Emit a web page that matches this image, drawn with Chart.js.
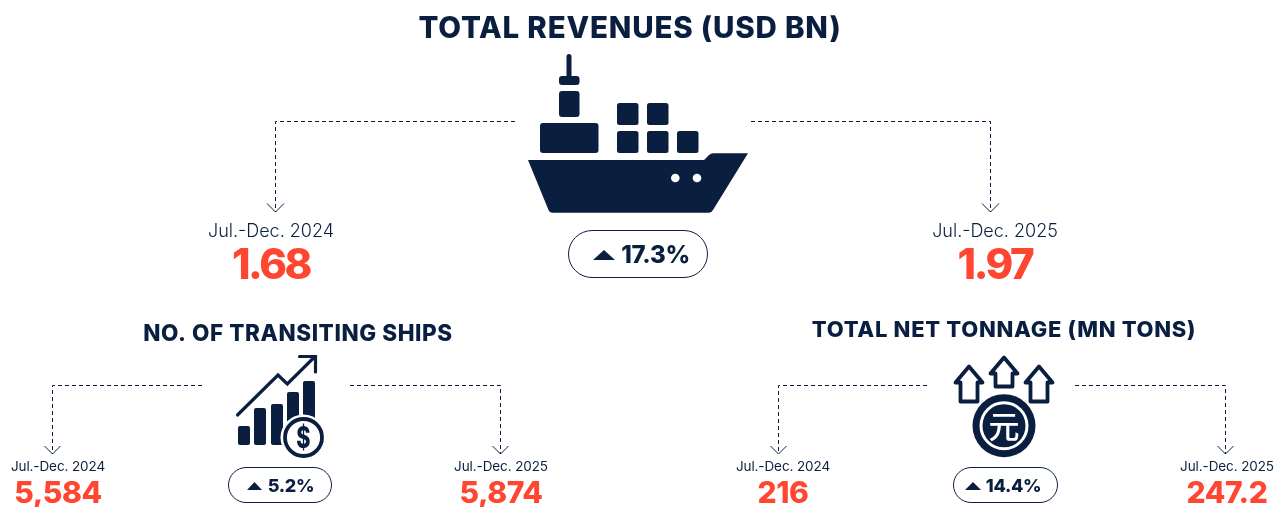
<!DOCTYPE html>
<html>
<head>
<meta charset="utf-8">
<title>Total revenues</title>
<style>
  html, body { margin: 0; padding: 0; background: #fff; }
  canvas { display: block; }
</style>
<script src="https://cdn.jsdelivr.net/npm/chart.js@4"></script>
</head>
<body>
<canvas id="board" width="1275" height="507"></canvas>
<script>
const periods = ["Jul.-Dec. 2024", "Jul.-Dec. 2025"];
const revenues = [1.68, 1.97];
const ships = [5584, 5874];
const tonnage = [216, 247.2];
const changes = [17.3, 5.2, 14.4];
const headings = ["TOTAL REVENUES (USD BN)", "NO. OF TRANSITING SHIPS", "TOTAL NET TONNAGE (MN TONS)"];

const NAVY = "#0a1f3f";
const RED = "#ff4631";
const FONT = "Inter, 'Noto Sans', sans-serif";

// dashed leader lines: [startX, cornerX, cornerY, tipY]
const leaders = [
  [515, 275.5, 121.5, 212],
  [751, 990.5, 121.5, 212],
  [202, 52.5, 385.5, 454],
  [350, 500.5, 385.5, 454],
  [927, 778.5, 385.5, 454],
  [1075, 1225.5, 385.5, 454]
];

const leaderSets = leaders.flatMap(([sx, cx, cy, tip]) => {
  const wing = tip < 300 ? 8.5 : 8;
  return [
    {
      data: [{x: sx, y: cy}, {x: cx, y: cy}, {x: cx, y: tip}],
      showLine: true, pointRadius: 0, borderColor: NAVY, borderWidth: 1, borderDash: [4, 3]
    },
    {
      data: [{x: cx - wing, y: tip - wing}, {x: cx, y: tip}, {x: cx + wing, y: tip - wing}],
      showLine: true, pointRadius: 0, borderColor: NAVY, borderWidth: 1
    }
  ];
});

const label = (ctx, str, x, y, font, color, spacing) => {
  ctx.font = font;
  ctx.fillStyle = color;
  ctx.textAlign = "center";
  ctx.textBaseline = "middle";
  ctx.letterSpacing = spacing || "0px";
  ctx.fillText(str, x, y);
  ctx.letterSpacing = "0px";
};

const box = (ctx, x0, y0, x1, y1, r) => {
  ctx.beginPath();
  ctx.roundRect(x0, y0, x1 - x0, y1 - y0, r);
  ctx.fill();
};

const poly = (ctx, pts) => {
  ctx.beginPath();
  pts.forEach(([x, y], i) => i ? ctx.lineTo(x, y) : ctx.moveTo(x, y));
  ctx.closePath();
};

const drawShip = (ctx) => {
  ctx.fillStyle = NAVY;
  box(ctx, 566.5, 54, 571.5, 78, 2.5);
  box(ctx, 559, 76, 579.5, 85, 3);
  box(ctx, 559, 91, 579.5, 117, 3);
  box(ctx, 540, 123, 598.5, 153, 3);
  [[617, 103], [647, 103], [617, 131], [647, 131], [677, 131]].forEach(([x, y]) => {
    box(ctx, x, y, x + 21.5, y + 22, 2.5);
  });
  ctx.beginPath();
  ctx.moveTo(528, 160);
  ctx.lineTo(704, 160);
  ctx.lineTo(709, 155);
  ctx.quadraticCurveTo(711, 153.3, 713, 153.3);
  ctx.lineTo(748, 153.3);
  ctx.lineTo(713, 210);
  ctx.quadraticCurveTo(711.5, 212.8, 709, 212.8);
  ctx.lineTo(552, 212.8);
  ctx.quadraticCurveTo(549.5, 212.8, 548.5, 210);
  ctx.closePath();
  ctx.fill();
  ctx.fillStyle = "#fff";
  [675.3, 697].forEach((x) => {
    ctx.beginPath();
    ctx.arc(x, 178, 4.3, 0, Math.PI * 2);
    ctx.fill();
  });
};

const drawGrowth = (ctx) => {
  ctx.fillStyle = NAVY;
  box(ctx, 238, 426, 250, 445, 2);
  box(ctx, 254, 408, 266, 445, 2);
  box(ctx, 271, 404, 283, 445, 2);
  box(ctx, 287, 392, 299, 445, 2);
  box(ctx, 303, 381, 315, 445, 2);
  ctx.strokeStyle = NAVY;
  ctx.lineWidth = 3.2;
  ctx.lineCap = "round";
  ctx.lineJoin = "miter";
  ctx.beginPath();
  ctx.moveTo(237.5, 415);
  ctx.lineTo(278, 375);
  ctx.lineTo(287.3, 384);
  ctx.lineTo(314.5, 357);
  ctx.stroke();
  ctx.beginPath();
  ctx.moveTo(299.5, 356.5);
  ctx.lineTo(315.5, 356.5);
  ctx.lineTo(315.5, 372);
  ctx.stroke();
  ctx.fillStyle = "#fff";
  ctx.beginPath();
  ctx.arc(303.5, 437.5, 23, 0, Math.PI * 2);
  ctx.fill();
  ctx.lineWidth = 3.8;
  ctx.beginPath();
  ctx.arc(303.5, 437.5, 18.5, 0, Math.PI * 2);
  ctx.stroke();
  // the dollar sign is taller and narrower than the font's own
  ctx.save();
  ctx.translate(303.5, 439);
  ctx.scale(0.72, 1);
  label(ctx, "$", 0, 0, "800 30px " + FONT, NAVY);
  ctx.restore();
};

const drawCoinArrows = (ctx) => {
  ctx.strokeStyle = NAVY;
  ctx.lineWidth = 3.8;
  ctx.lineJoin = "round";
  [[969, 366.5], [1004, 357.5], [1039, 366.5]].forEach(([x, y], i) => {
    const neck = y + 16;
    const foot = i === 1 ? y + 29 : y + 35;
    poly(ctx, [[x, y], [x + 13.5, neck], [x + 8.5, neck], [x + 8.5, foot], [x - 8.5, foot], [x - 8.5, neck], [x - 13.5, neck]]);
    ctx.stroke();
  });
  ctx.fillStyle = NAVY;
  ctx.beginPath();
  ctx.arc(1004, 425.7, 31.5, 0, Math.PI * 2);
  ctx.fill();
  ctx.strokeStyle = "#fff";
  ctx.lineWidth = 3;
  ctx.beginPath();
  ctx.arc(1004, 425.7, 23, 0, Math.PI * 2);
  ctx.stroke();
  label(ctx, "元", 1004, 426, "500 31px 'Noto Sans CJK SC'", "#fff");
};

const drawPill = (ctx, x0, y0, x1, y1, triX0, triX1, triH, str, textX, font) => {
  const midY = (y0 + y1) / 2;
  ctx.strokeStyle = NAVY;
  ctx.lineWidth = 1;
  ctx.beginPath();
  ctx.roundRect(x0, y0, x1 - x0, y1 - y0, (y1 - y0) / 2);
  ctx.stroke();
  ctx.fillStyle = NAVY;
  poly(ctx, [[(triX0 + triX1) / 2, midY - triH / 2 + 1], [triX1, midY + triH / 2 + 1], [triX0, midY + triH / 2 + 1]]);
  ctx.fill();
  label(ctx, str, textX, midY + 1.5, font, NAVY, "-0.3px");
};

const fmt = (v) => v.toLocaleString("en-US");

const boardPlugin = {
  id: "board",
  afterDraw(chart) {
    const ctx = chart.ctx;
    ctx.save();
    label(ctx, headings[0], 630, 29, "800 29.5px " + FONT, NAVY, "0.82px");
    label(ctx, headings[1], 298, 334.5, "800 22.5px " + FONT, NAVY, "0.57px");
    label(ctx, headings[2], 1004, 330.5, "800 22px " + FONT, NAVY, "0.7px");

    drawShip(ctx);
    drawGrowth(ctx);
    drawCoinArrows(ctx);

    const large = "300 18px " + FONT;
    const small = "400 13.5px " + FONT;
    label(ctx, periods[0], 271, 232, large, NAVY);
    label(ctx, periods[1], 995, 232, large, NAVY);
    label(ctx, fmt(revenues[0]), 271, 266, "800 42px " + FONT, RED, "-2.4px");
    label(ctx, fmt(revenues[1]), 995, 266, "800 42px " + FONT, RED, "-2.4px");

    [58, 501].forEach((x, i) => {
      label(ctx, periods[i], x, 467, small, NAVY, "-0.1px");
      label(ctx, fmt(ships[i]), x, 494, "800 30px " + FONT, RED, "-0.4px");
    });
    [783, 1227].forEach((x, i) => {
      label(ctx, periods[i], x, 467, small, NAVY, "-0.1px");
      label(ctx, fmt(tonnage[i]), x, 494, "800 30px " + FONT, RED, "-0.4px");
    });

    drawPill(ctx, 568.5, 230.5, 707.5, 277.5, 593, 615, 10, changes[0] + "%", 655.5, "800 24px " + FONT);
    drawPill(ctx, 228.5, 467.5, 331.5, 502.5, 247, 262, 8, changes[1] + "%", 291, "800 18px " + FONT);
    drawPill(ctx, 953.5, 467.5, 1057.5, 502.5, 965, 981, 8, changes[2] + "%", 1013.5, "800 18px " + FONT);
    ctx.restore();
  }
};

new Chart(document.getElementById("board"), {
  type: "scatter",
  data: { datasets: leaderSets },
  options: {
    responsive: false,
    animation: false,
    layout: { padding: 0 },
    plugins: { legend: { display: false }, tooltip: { enabled: false }, title: { display: false } },
    scales: {
      x: { type: "linear", min: 0, max: 1275, display: false },
      y: { type: "linear", min: 0, max: 507, reverse: true, display: false }
    }
  },
  plugins: [boardPlugin]
});
</script>
</body>
</html>
